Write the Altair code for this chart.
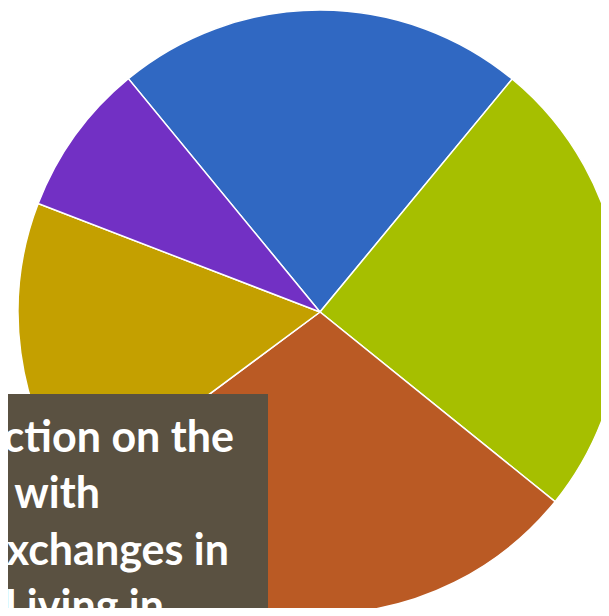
import math
import altair as alt
import pandas as pd

# Slice data (clockwise from the blue slice)
categories = ["Blue", "Green", "Orange", "Gold", "Purple"]
values = [21.9, 24.8, 29.0, 16.0, 8.2]
colors = ["#3068C2", "#A6BF00", "#BA5A24", "#C4A000", "#7230C4"]

# Overlay text box lines (partially cut off at the left in the reference)
text_lines = ["Reflection on the", "Interaction with", "Cultural Exchanges in", "and Living in"]
text_right_edges = [226, 92, 221, 156]
text_baselines = [444, 500, 557, 613]

pie_df = pd.DataFrame({"category": categories, "value": values, "order": list(range(len(categories)))})
text_df = pd.DataFrame({"line": text_lines, "xr": text_right_edges, "yb": text_baselines})

start = -math.radians(39.4)

W, H = 593, 600
cx, cy = 312, 304

pie = alt.Chart(pie_df).mark_arc(outerRadius=302, stroke="white", strokeWidth=1.5).encode(
    theta=alt.Theta("value:Q", stack=True, scale=alt.Scale(range=[start, start + 2 * math.pi])),
    color=alt.Color("category:N", scale=alt.Scale(domain=categories, range=colors), legend=None),
    order=alt.Order("order:Q"),
    x=alt.value(cx),
    y=alt.value(cy),
)

box = alt.Chart(pd.DataFrame({"a": [0]})).mark_rect(color="#5A5141").encode(
    x=alt.value(-10), x2=alt.value(260), y=alt.value(386), y2=alt.value(640)
)

txt = alt.Chart(text_df).mark_text(
    align="right", baseline="alphabetic", font="Lato", fontWeight="bold", fontSize=43, color="white"
).encode(
    x=alt.X("xr:Q", scale=alt.Scale(domain=[0, W], range=[0, W]), axis=None),
    y=alt.Y("yb:Q", scale=alt.Scale(domain=[0, H], range=[0, H]), axis=None),
    text="line:N",
)

chart = alt.layer(pie, box, txt).properties(
    width=W, height=H, padding=0, background="white", autosize=alt.AutoSizeParams(type="none")
).configure_view(strokeWidth=0)

chart.save("out.html", embed_options={"renderer": "svg", "actions": False})
